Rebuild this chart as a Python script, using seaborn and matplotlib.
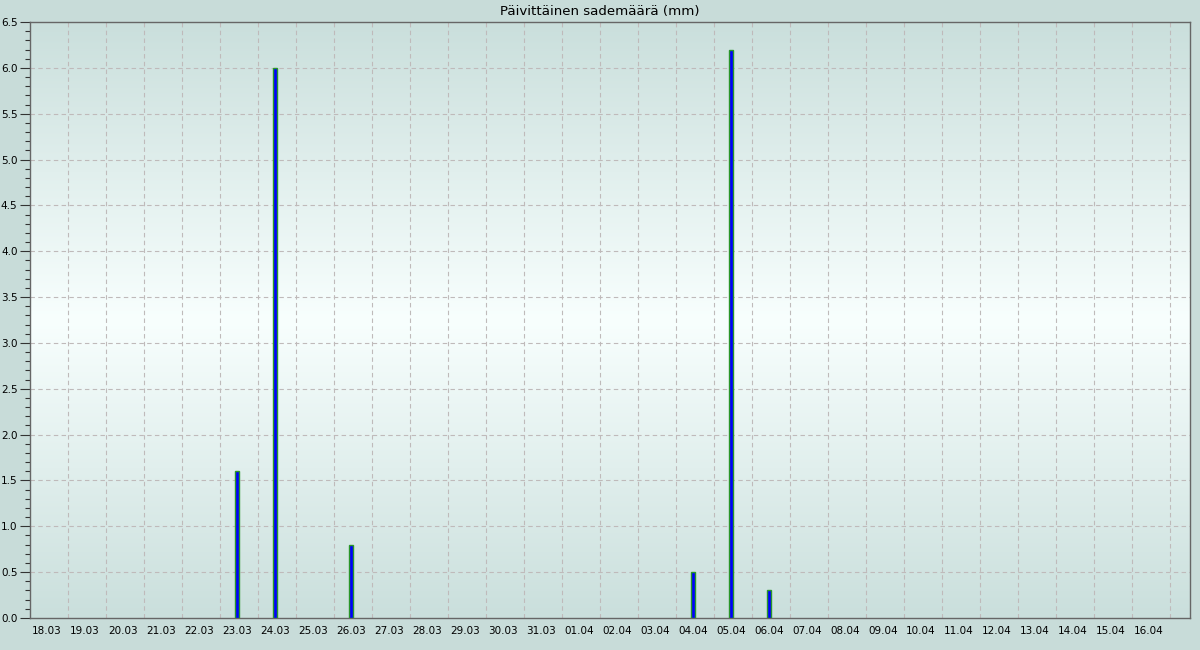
import numpy as np
import pandas as pd
import matplotlib
matplotlib.use("Agg")
import matplotlib.pyplot as plt
import seaborn as sns
from matplotlib.ticker import MultipleLocator
from matplotlib.colors import LinearSegmentedColormap

# Data
days = ["18.03", "19.03", "20.03", "21.03", "22.03", "23.03", "24.03", "25.03", "26.03",
        "27.03", "28.03", "29.03", "30.03", "31.03", "01.04", "02.04", "03.04", "04.04",
        "05.04", "06.04", "07.04", "08.04", "09.04", "10.04", "11.04", "12.04", "13.04",
        "14.04", "15.04", "16.04"]
rain_days = ["23.03", "24.03", "26.03", "04.04", "05.04", "06.04"]
rain_mm = [1.6, 6.0, 0.8, 0.5, 6.2, 0.3]
title = "Päivittäinen sademäärä (mm)"

sns.set_style("white")
plt.rcParams["font.family"] = ["DejaVu Sans"]

fig = plt.figure(figsize=(12, 6.5), dpi=100)
fig.patch.set_facecolor("#c8dcd9")
ax = fig.add_axes([30/1200, 1-618/650, 1160/1200, 596/650])

# background gradient
cmap = LinearSegmentedColormap.from_list("bg", ["#cadfdc", "#f8fffe", "#cadfdc"])
grad = np.linspace(0, 1, 256).reshape(-1, 1)
ax.imshow(grad, cmap=cmap, aspect="auto", extent=[0, 1, 0, 1],
          transform=ax.transAxes, zorder=0, interpolation="bilinear")

df = pd.DataFrame({"day": rain_days, "mm": rain_mm})
sns.barplot(data=df, x="day", y="mm", order=days, ax=ax, width=0.09,
            color="#0000ff", saturation=1, edgecolor="#2a962a", linewidth=1.0,
            zorder=3)
for p in ax.patches:
    p.set_facecolor("#0000ff")

ax.set_xlim(-0.447, 30.08)
ax.set_ylim(0, 6.5)
ax.set_xlabel("")
ax.set_ylabel("")

ax.yaxis.set_major_locator(MultipleLocator(0.5))
ax.yaxis.set_minor_locator(MultipleLocator(0.1))
ax.yaxis.set_major_formatter(matplotlib.ticker.FormatStrFormatter("%.1f"))
ax.tick_params(axis="y", which="major", length=7, width=0.8, color="#333333",
               labelsize=7.5, pad=2, left=True, labelcolor="#000000")
ax.tick_params(axis="y", which="minor", length=3.5, width=0.8, color="#333333", left=True)
ax.tick_params(axis="x", length=0, labelsize=7.5, pad=6, labelcolor="#000000")

# grid
gcol = "#bfbaba"
for i in range(len(days)):
    ax.axvline(i + 0.553, color=gcol, lw=0.8, ls=(0, (4, 3)), zorder=1)
for yv in np.arange(0.5, 6.5, 0.5):
    ax.axhline(yv, color=gcol, lw=0.8, ls=(0, (4, 3)), zorder=1)

for s in ax.spines.values():
    s.set_visible(True)
    s.set_color("#666666")
    s.set_linewidth(1.0)

fig.text(0.5, 1 - 11/650, title, ha="center", va="center", fontsize=9.6, color="#000000")

fig.savefig("out.png", dpi=100, facecolor=fig.get_facecolor())
